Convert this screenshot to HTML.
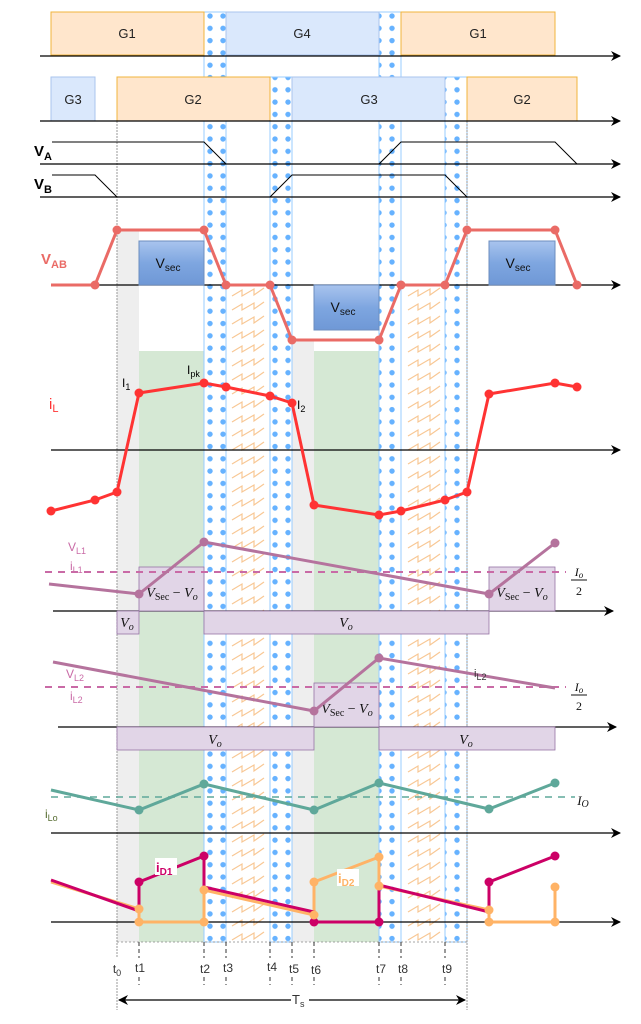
<!DOCTYPE html>
<html><head><meta charset="utf-8"><style>
html,body{margin:0;padding:0;background:#fff;}
svg{display:block;font-family:"Liberation Sans",sans-serif;}
</style></head><body>
<svg width="641" height="1024" viewBox="0 0 641 1024" xmlns="http://www.w3.org/2000/svg">
<defs>
<pattern id="dots" x="204" y="10" width="13" height="12.3" patternUnits="userSpaceOnUse">
<circle cx="6" cy="6" r="2.7" fill="#66b2ff"/>
</pattern>
<pattern id="zig" x="226" y="285" width="44" height="14" patternUnits="userSpaceOnUse">
<polyline points="6,11 16,5 16,11 28,4 28,10 38,3" fill="none" stroke="#f8c794" stroke-width="1.2"/>
</pattern>
<linearGradient id="vs" x1="0" y1="0" x2="0" y2="1">
<stop offset="0" stop-color="#a9c4ee"/><stop offset="0.5" stop-color="#7ea6e0"/><stop offset="1" stop-color="#6f98d6"/>
</linearGradient>
<marker id="ar" markerWidth="10" markerHeight="10" refX="9" refY="5" orient="auto" markerUnits="userSpaceOnUse">
<path d="M0,0 L10,5 L0,10 L3,5 Z" fill="#000"/>
</marker>
<marker id="arb" markerWidth="10" markerHeight="10" refX="1" refY="5" orient="auto" markerUnits="userSpaceOnUse">
<path d="M10,0 L0,5 L10,10 L7,5 Z" fill="#000"/>
</marker>
</defs>

<rect x="117" y="230" width="22" height="712" fill="#eeeeee"/>
<rect x="292" y="340" width="22" height="602" fill="#eeeeee"/>
<rect x="139" y="351" width="65" height="591" fill="#d5e8d4"/>
<rect x="314" y="351" width="65" height="591" fill="#d5e8d4"/>
<rect x="226" y="285" width="44" height="657" fill="url(#zig)"/>
<rect x="401" y="285" width="44" height="657" fill="url(#zig)"/>
<rect x="204" y="12" width="22" height="930" fill="url(#dots)" stroke="#99ccff" stroke-width="1"/>
<rect x="379" y="12" width="22" height="930" fill="url(#dots)" stroke="#99ccff" stroke-width="1"/>
<rect x="270" y="77" width="22" height="865" fill="url(#dots)" stroke="#99ccff" stroke-width="1"/>
<rect x="445" y="77" width="22" height="865" fill="url(#dots)" stroke="#99ccff" stroke-width="1"/>
<line x1="117" y1="121" x2="117" y2="1010" stroke="#999" stroke-width="1" stroke-dasharray="2,1"/>
<line x1="467" y1="121" x2="467" y2="1010" stroke="#999" stroke-width="1" stroke-dasharray="2,1"/>

<g font-size="13" text-anchor="middle" fill="#222">
<rect x="51" y="12" width="153" height="43" fill="#ffe6cc" stroke="#f0b43c"/><text x="127" y="38">G1</text>
<rect x="226" y="12" width="153" height="43" fill="#dae8fc" stroke="#aac4ee"/><text x="302" y="38">G4</text>
<rect x="401" y="12" width="154" height="43" fill="#ffe6cc" stroke="#f0b43c"/><text x="478" y="38">G1</text>
<rect x="51" y="77" width="44" height="44" fill="#dae8fc" stroke="#aac4ee"/><text x="73" y="104">G3</text>
<rect x="117" y="77" width="153" height="44" fill="#ffe6cc" stroke="#f0b43c"/><text x="193" y="104">G2</text>
<rect x="292" y="77" width="153" height="44" fill="#dae8fc" stroke="#aac4ee"/><text x="369" y="104">G3</text>
<rect x="467" y="77" width="110" height="44" fill="#ffe6cc" stroke="#f0b43c"/><text x="522" y="104">G2</text>
</g>
<g stroke="#000" stroke-width="1.2" marker-end="url(#ar)">
<line x1="40" y1="56" x2="620" y2="56"/>
<line x1="40" y1="121" x2="620" y2="121"/>
<line x1="40" y1="164" x2="620" y2="164"/>
<line x1="40" y1="197" x2="620" y2="197"/>
<line x1="51" y1="285" x2="620" y2="285"/>
<line x1="51" y1="450" x2="620" y2="450"/>
<line x1="53" y1="611" x2="613" y2="611"/>
<line x1="58" y1="727" x2="616" y2="727"/>
<line x1="51" y1="833" x2="620" y2="833"/>
<line x1="51" y1="922" x2="620" y2="922"/>
</g>
<polyline points="52,142 204,142 226,164" fill="none" stroke="#000" stroke-width="1"/>
<polyline points="379,164 401,142 555,142 577,164" fill="none" stroke="#000" stroke-width="1"/>
<polyline points="52,175 95,175 117,197" fill="none" stroke="#000" stroke-width="1"/>
<polyline points="270,197 292,175 445,175 467,197" fill="none" stroke="#000" stroke-width="1"/>
<text x="34" y="156" font-size="15" font-weight="bold">V<tspan font-size="11" dy="4">A</tspan></text>
<text x="34" y="189" font-size="15" font-weight="bold">V<tspan font-size="11" dy="4">B</tspan></text>

<g font-size="14" text-anchor="middle" fill="#111">
<rect x="139" y="241" width="65" height="44" fill="url(#vs)" stroke="#6c8ebf"/><text x="168" y="268">V<tspan font-size="10" dy="3">sec</tspan></text>
<rect x="314" y="285" width="65" height="45" fill="url(#vs)" stroke="#6c8ebf"/><text x="343" y="312">V<tspan font-size="10" dy="3">sec</tspan></text>
<rect x="489" y="241" width="66" height="44" fill="url(#vs)" stroke="#6c8ebf"/><text x="518" y="268">V<tspan font-size="10" dy="3">sec</tspan></text>
</g>
<polyline points="51,285 95,285 117,230 204,230 226,285 270,285 292,340 379,340 401,285 445,285 467,230 555,230 577,285" fill="none" stroke="#ea6b66" stroke-width="3"/>
<g fill="#ea6b66">
<circle cx="95" cy="285" r="4.5"/><circle cx="117" cy="230" r="4.5"/><circle cx="204" cy="230" r="4.5"/><circle cx="226" cy="285" r="4.5"/><circle cx="270" cy="285" r="4.5"/><circle cx="292" cy="340" r="4.5"/><circle cx="379" cy="340" r="4.5"/><circle cx="401" cy="285" r="4.5"/><circle cx="445" cy="285" r="4.5"/><circle cx="467" cy="230" r="4.5"/><circle cx="555" cy="230" r="4.5"/><circle cx="577" cy="285" r="4.5"/>
</g>
<text x="41" y="264" font-size="15" font-weight="bold" fill="#ea6b66">V<tspan font-size="11" dy="4">AB</tspan></text>

<polyline points="51,511 95,500 117,492 139,393 204,383 226,387 270,396 292,403 314,505 379,515 401,511 445,500 467,492 489,394 555,383 577,387" fill="none" stroke="#ff3333" stroke-width="3"/>
<g fill="#ff3333">
<circle cx="51" cy="511" r="4.5"/><circle cx="95" cy="500" r="4.5"/><circle cx="117" cy="492" r="4.5"/><circle cx="139" cy="393" r="4.5"/><circle cx="204" cy="383" r="4.5"/><circle cx="226" cy="387" r="4.5"/><circle cx="270" cy="396" r="4.5"/><circle cx="292" cy="403" r="4.5"/><circle cx="314" cy="505" r="4.5"/><circle cx="379" cy="515" r="4.5"/><circle cx="401" cy="511" r="4.5"/><circle cx="445" cy="500" r="4.5"/><circle cx="467" cy="492" r="4.5"/><circle cx="489" cy="394" r="4.5"/><circle cx="555" cy="383" r="4.5"/><circle cx="577" cy="387" r="4.5"/>
</g>
<text x="49" y="409" font-size="15" fill="#ff3333">i<tspan font-size="11" dy="3">L</tspan></text>
<text x="122" y="387" font-size="12">I<tspan font-size="9" dy="3">1</tspan></text>
<text x="187" y="374" font-size="12">I<tspan font-size="9" dy="3">pk</tspan></text>
<text x="297" y="409" font-size="12">I<tspan font-size="9" dy="3">2</tspan></text>

<g font-family="Liberation Serif,serif" font-style="italic" font-size="14" text-anchor="middle" fill="#111">
<rect x="139" y="567" width="65" height="44" fill="#e1d5e7" stroke="#9673a6" stroke-width="0.8"/><text x="172" y="597">V<tspan font-style="normal" font-size="10" dy="3">Sec</tspan><tspan font-style="normal" dy="-3"> − </tspan>V<tspan font-size="10" dy="3">o</tspan></text>
<rect x="489" y="567" width="66" height="44" fill="#e1d5e7" stroke="#9673a6" stroke-width="0.8"/><text x="522" y="597">V<tspan font-style="normal" font-size="10" dy="3">Sec</tspan><tspan font-style="normal" dy="-3"> − </tspan>V<tspan font-size="10" dy="3">o</tspan></text>
<rect x="117" y="611" width="22" height="23" fill="#e1d5e7" stroke="#9673a6" stroke-width="0.8"/><text x="127" y="627">V<tspan font-size="10" dy="3">o</tspan></text>
<rect x="204" y="611" width="285" height="23" fill="#e1d5e7" stroke="#9673a6" stroke-width="0.8"/><text x="346" y="627">V<tspan font-size="10" dy="3">o</tspan></text>
<rect x="314" y="683" width="65" height="44" fill="#e1d5e7" stroke="#9673a6" stroke-width="0.8"/><text x="347" y="713">V<tspan font-style="normal" font-size="10" dy="3">Sec</tspan><tspan font-style="normal" dy="-3"> − </tspan>V<tspan font-size="10" dy="3">o</tspan></text>
<rect x="117" y="727" width="197" height="23" fill="#e1d5e7" stroke="#9673a6" stroke-width="0.8"/><text x="215" y="744">V<tspan font-size="10" dy="3">o</tspan></text>
<rect x="379" y="727" width="176" height="23" fill="#e1d5e7" stroke="#9673a6" stroke-width="0.8"/><text x="466" y="744">V<tspan font-size="10" dy="3">o</tspan></text>
<rect x="569" y="561" width="20" height="38" fill="#fff"/><text x="579" y="576" font-size="12">I<tspan font-size="9" dy="2">o</tspan></text><line x1="571" y1="580" x2="587" y2="580" stroke="#111"/><text x="579" y="595" font-style="normal" font-size="12">2</text>
<rect x="569" y="676" width="20" height="38" fill="#fff"/><text x="579" y="691" font-size="12">I<tspan font-size="9" dy="2">o</tspan></text><line x1="571" y1="695" x2="587" y2="695" stroke="#111"/><text x="579" y="710" font-style="normal" font-size="12">2</text>
<text x="583" y="805" font-size="13">I<tspan font-size="10" dy="2">O</tspan></text>
</g>
<line x1="45" y1="572" x2="566" y2="572" stroke="#c96aa6" stroke-width="2" stroke-dasharray="7,6"/>
<line x1="45" y1="687" x2="566" y2="687" stroke="#c96aa6" stroke-width="2" stroke-dasharray="7,6"/>
<polyline points="49,584 139,594 204,542 489,594 555,543" fill="none" stroke="#b5739d" stroke-width="3"/>
<polyline points="53,662 314,711 379,658 555,688" fill="none" stroke="#b5739d" stroke-width="3"/>
<g fill="#b5739d"><circle cx="139" cy="594" r="4.5"/><circle cx="204" cy="542" r="4.5"/><circle cx="489" cy="594" r="4.5"/><circle cx="555" cy="543" r="4.5"/><circle cx="314" cy="711" r="4.5"/><circle cx="379" cy="658" r="4.5"/></g>
<g font-size="12" fill="#c96aa6">
<text x="68" y="551">V<tspan font-size="9" dy="3">L1</tspan></text>
<text x="70" y="570">i<tspan font-size="9" dy="3">L1</tspan></text>
<text x="66" y="678">V<tspan font-size="9" dy="3">L2</tspan></text>
<text x="70" y="700">i<tspan font-size="9" dy="3">L2</tspan></text>
</g>
<text x="474" y="677" font-size="11" fill="#333">i<tspan font-size="9" dy="3">L2</tspan></text>

<line x1="51" y1="797" x2="575" y2="797" stroke="#5fa89a" stroke-width="1.5" stroke-dasharray="7,6"/>
<polyline points="51,790 139,810 204,784 314,810 379,783 489,809 555,783" fill="none" stroke="#5fa89a" stroke-width="3"/>
<g fill="#5fa89a"><circle cx="139" cy="810" r="4.5"/><circle cx="204" cy="784" r="4.5"/><circle cx="314" cy="810" r="4.5"/><circle cx="379" cy="783" r="4.5"/><circle cx="489" cy="809" r="4.5"/><circle cx="555" cy="783" r="4.5"/></g>
<text x="45" y="818" font-size="12" fill="#556b2f">i<tspan font-size="9" dy="3">Lo</tspan></text>

<polyline points="51,882 139,909 139,922 204,922 204,890 314,915 314,882 379,857 379,886 489,910 489,922 555,922 555,912 555,887" fill="none" stroke="#ffb366" stroke-width="3"/>
<polyline points="51,880 139,911 139,882 204,856 204,887 314,912 314,922 379,922 379,885 489,912 489,882 555,856" fill="none" stroke="#cc0066" stroke-width="3"/>
<g fill="#cc0066"><circle cx="139" cy="882" r="4.5"/><circle cx="204" cy="856" r="4.5"/><circle cx="314" cy="922" r="4.5"/><circle cx="379" cy="922" r="4.5"/><circle cx="489" cy="882" r="4.5"/><circle cx="555" cy="856" r="4.5"/></g>
<g fill="#ffb366"><circle cx="139" cy="909" r="4.5"/><circle cx="139" cy="922" r="4.5"/><circle cx="204" cy="922" r="4.5"/><circle cx="204" cy="890" r="4.5"/><circle cx="314" cy="915" r="4.5"/><circle cx="314" cy="882" r="4.5"/><circle cx="379" cy="857" r="4.5"/><circle cx="379" cy="886" r="4.5"/><circle cx="489" cy="910" r="4.5"/><circle cx="489" cy="922" r="4.5"/><circle cx="555" cy="922" r="4.5"/><circle cx="555" cy="887" r="4.5"/></g>
<rect x="155" y="858" width="22" height="17" fill="#fff"/>
<text x="156" y="872" font-size="13" font-weight="bold" fill="#cc0066">i<tspan font-size="10" dy="3">D1</tspan></text>
<rect x="337" y="869" width="22" height="17" fill="#fff"/>
<text x="338" y="883" font-size="13" font-weight="bold" fill="#ffb366">i<tspan font-size="10" dy="3">D2</tspan></text>

<line x1="117" y1="942" x2="467" y2="942" stroke="#888" stroke-width="0.8" stroke-dasharray="2,2"/>
<g stroke="#333" stroke-width="1" stroke-dasharray="4,3">
<line x1="139" y1="942" x2="139" y2="985"/><line x1="204" y1="942" x2="204" y2="985"/><line x1="226" y1="942" x2="226" y2="985"/><line x1="270" y1="942" x2="270" y2="985"/><line x1="292" y1="942" x2="292" y2="985"/><line x1="314" y1="942" x2="314" y2="985"/><line x1="379" y1="942" x2="379" y2="985"/><line x1="401" y1="942" x2="401" y2="985"/><line x1="445" y1="942" x2="445" y2="985"/>
</g>
<g font-size="12" text-anchor="middle" fill="#333">
<rect x="110" y="958" width="14" height="20" fill="#fff"/><text x="117" y="973">t<tspan font-size="9" dy="3">0</tspan></text>
<rect x="133" y="958" width="14" height="17" fill="#fff"/><text x="140" y="972">t1</text>
<rect x="198" y="958" width="14" height="17" fill="#fff"/><text x="205" y="973">t2</text>
<rect x="220" y="958" width="14" height="17" fill="#fff"/><text x="228" y="972">t3</text>
<rect x="264" y="958" width="14" height="17" fill="#fff"/><text x="272" y="971">t4</text>
<rect x="286" y="958" width="14" height="17" fill="#fff"/><text x="294" y="973">t5</text>
<rect x="308" y="958" width="14" height="17" fill="#fff"/><text x="316" y="974">t6</text>
<rect x="373" y="958" width="14" height="17" fill="#fff"/><text x="381" y="973">t7</text>
<rect x="395" y="958" width="14" height="17" fill="#fff"/><text x="403" y="973">t8</text>
<rect x="439" y="958" width="14" height="17" fill="#fff"/><text x="447" y="973">t9</text>
</g>
<line x1="119" y1="1000" x2="465" y2="1000" stroke="#000" stroke-width="1.2" marker-start="url(#arb)" marker-end="url(#ar)"/>
<rect x="291" y="990" width="18" height="20" fill="#fff"/>
<text x="292" y="1004" font-size="13" fill="#333">T<tspan font-size="9" dy="3">s</tspan></text>
</svg>
</body></html>
